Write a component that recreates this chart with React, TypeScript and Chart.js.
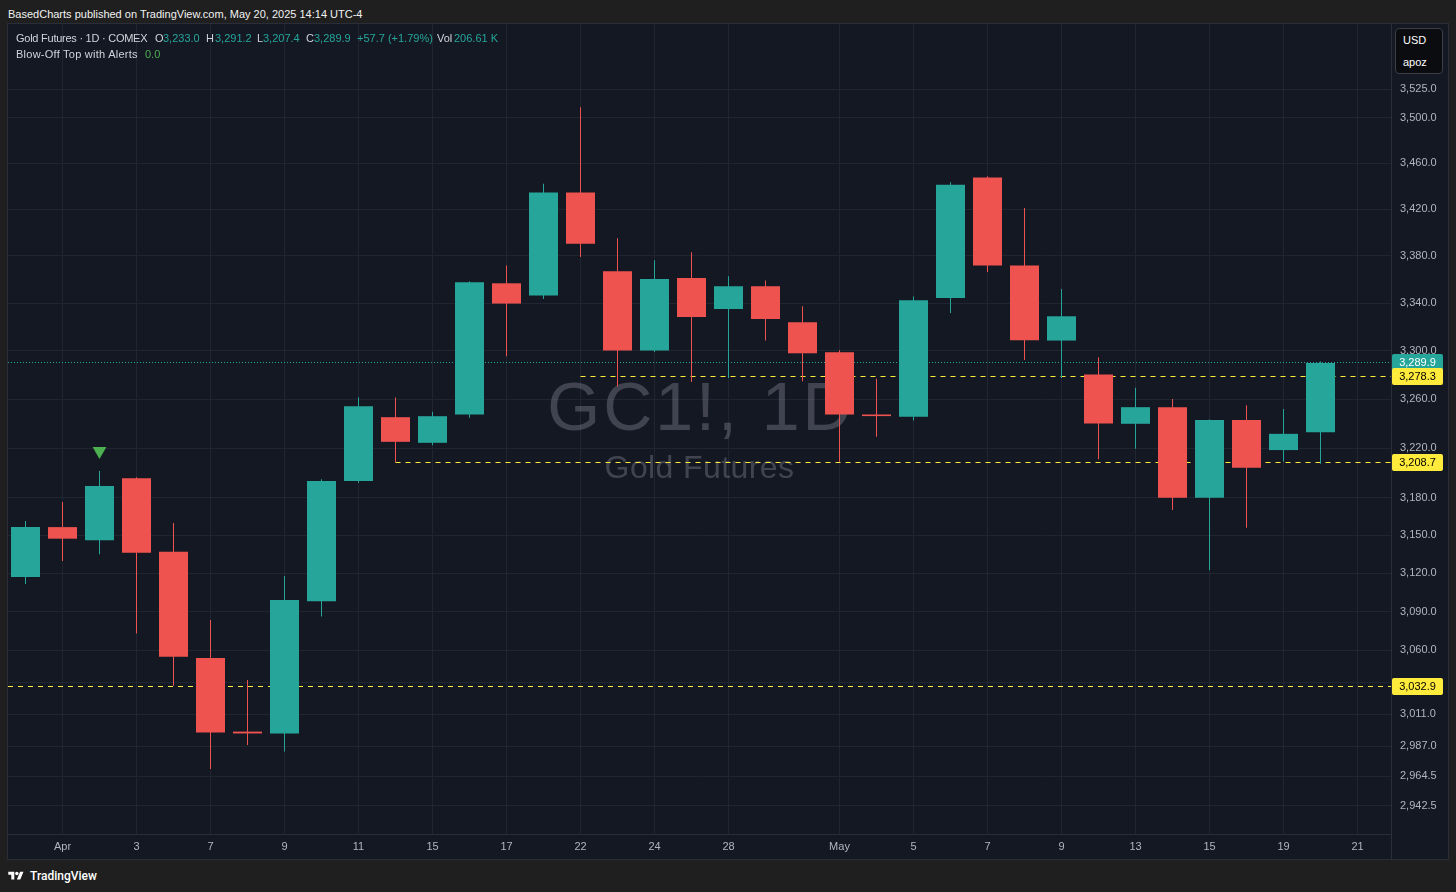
import React, { useEffect, useRef } from 'react';
import { Chart, registerables } from 'chart.js';

Chart.register(...registerables);

// ---------- data ----------
const categories = [
  'Mar 31', 'Apr 1', 'Apr 2', 'Apr 3', 'Apr 4', 'Apr 7', 'Apr 8', 'Apr 9', 'Apr 10', 'Apr 11',
  'Apr 14', 'Apr 15', 'Apr 16', 'Apr 17', 'Apr 21', 'Apr 22', 'Apr 23', 'Apr 24', 'Apr 25', 'Apr 28',
  'Apr 29', 'Apr 30', 'May 1', 'May 2', 'May 5', 'May 6', 'May 7', 'May 8', 'May 9', 'May 12',
  'May 13', 'May 14', 'May 15', 'May 16', 'May 19', 'May 20',
];
const opens = [
  3117.2, 3156.6, 3146.1, 3195.8, 3137.0, 3054.2, 2998.0, 2996.6, 3098.2, 3193.5,
  3245.3, 3224.4, 3247.5, 3356.7, 3346.3, 3434.5, 3366.9, 3300.3, 3361.2, 3335.0,
  3354.2, 3323.9, 3298.9, 3247.5, 3245.6, 3344.3, 3447.5, 3371.9, 3308.6, 3280.4,
  3239.9, 3253.5, 3180.0, 3242.9, 3218.5, 3233.0,
];
const highs = [
  3161.4, 3176.6, 3201.5, 3196.5, 3159.8, 3083.6, 3037.3, 3117.9, 3195.0, 3261.7,
  3261.4, 3249.7, 3358.5, 3371.7, 3442.0, 3509.0, 3395.0, 3376.2, 3383.0, 3362.6,
  3359.0, 3337.3, 3300.5, 3276.8, 3345.5, 3443.2, 3448.5, 3421.0, 3351.9, 3294.7,
  3269.4, 3260.3, 3243.4, 3255.1, 3251.9, 3291.2,
];
const lows = [
  3111.7, 3129.7, 3135.0, 3073.0, 3032.9, 2969.8, 2987.8, 2983.0, 3086.2, 3192.0,
  3208.7, 3222.5, 3244.9, 3295.6, 3343.4, 3379.0, 3270.8, 3299.0, 3274.3, 3277.6,
  3308.6, 3274.9, 3209.0, 3229.3, 3242.6, 3331.7, 3366.3, 3292.5, 3277.6, 3211.0,
  3219.5, 3170.2, 3122.4, 3156.1, 3209.0, 3207.4,
];
const closes = [
  3156.6, 3147.4, 3189.4, 3136.3, 3055.2, 2997.3, 2996.6, 3099.2, 3193.5, 3254.3,
  3225.2, 3246.1, 3357.6, 3339.6, 3434.5, 3390.4, 3300.3, 3360.4, 3328.3, 3354.2,
  3326.7, 3298.0, 3247.5, 3246.2, 3342.4, 3441.2, 3371.7, 3308.9, 3328.9, 3240.2,
  3253.5, 3180.0, 3242.9, 3204.1, 3231.7, 3289.9,
];

const xTickIndex = [1, 3, 5, 7, 9, 11, 13, 15, 17, 19, 22, 24, 26, 28, 30, 32, 34, 36];
const xTickLabels = ['Apr', '3', '7', '9', '11', '15', '17', '22', '24', '28', 'May', '5', '7', '9', '13', '15', '19', '21'];

const yTickValues = [3525, 3500, 3460, 3420, 3380, 3340, 3300, 3260, 3220, 3180, 3150, 3120, 3090, 3060, 3035, 3011, 2987, 2964.5, 2942.5];
const yTickLabels = ['3,525.0', '3,500.0', '3,460.0', '3,420.0', '3,380.0', '3,340.0', '3,300.0', '3,260.0', '3,220.0', '3,180.0', '3,150.0', '3,120.0', '3,090.0', '3,060.0', '', '3,011.0', '2,987.0', '2,964.5', '2,942.5'];

const lastPrice = 3289.9;
const levelValues = [3278.3, 3208.7, 3032.9];
const levelStartIndex = [15, 10, -0.473];
const signalIndex = [2];
const signalValue = [3217.7];

// ---------- styling / geometry ----------
const X_MIN = -0.473;
const X_MAX = 36.905;
const Y_MIN = 2921.6;
const Y_MAX = 3583.45;
const UP = '#26a69a';
const DOWN = '#ef5350';
const YELLOW = '#ffeb3b';
const BG = '#141823';
const GRID = '#212531';
const BORDER = '#2a2e39';
const TEXT = '#b2b5be';
const FONT = '"Liberation Sans", Arial, sans-serif';

const fmt = (v: number) => v.toLocaleString('en-US', { minimumFractionDigits: 1, maximumFractionDigits: 1 });
// centre of the whole pixel row a 1px horizontal level line is drawn on
const rowCenter = (py: number) => 2 * Math.round((py - 0.5) / 2) + 0.5;

const watermarkPlugin = {
  id: 'watermark',
  beforeDatasetsDraw(chart: any) {
    const { ctx, chartArea } = chart;
    const cx = (chartArea.left + chartArea.right) / 2;
    ctx.save();
    ctx.fillStyle = 'rgba(128,132,142,0.42)';
    ctx.textAlign = 'center';
    ctx.textBaseline = 'alphabetic';
    ctx.font = `68px ${FONT}`;
    try { (ctx as any).letterSpacing = '3px'; } catch (e) { /* ignore */ }
    ctx.fillText('GC1!, 1D', cx + 1.5, 406);
    try { (ctx as any).letterSpacing = '0.4px'; } catch (e) { /* ignore */ }
    ctx.font = `32px ${FONT}`;
    ctx.fillText('Gold Futures', cx, 454);
    try { (ctx as any).letterSpacing = '0px'; } catch (e) { /* ignore */ }
    ctx.restore();
  },
};

// keeps the 1px horizontal level lines on whole pixels so they stay crisp
const snapPlugin = {
  id: 'snapLines',
  beforeDatasetDraw(chart: any, args: any) {
    const ds = chart.data.datasets[args.index];
    if (!ds || !ds.snap) return;
    const py = chart.scales.y.getPixelForValue(ds.data[0].y);
    chart.ctx.save();
    chart.ctx.translate(0, rowCenter(py) - py);
  },
  afterDatasetDraw(chart: any, args: any) {
    const ds = chart.data.datasets[args.index];
    if (!ds || !ds.snap) return;
    chart.ctx.restore();
  },
};

const priceBoxPlugin = {
  id: 'priceBoxes',
  afterDraw(chart: any) {
    const { ctx, chartArea } = chart;
    const y = chart.scales.y;
    const boxes = [{ v: lastPrice, bg: UP, fg: '#ffffff' }, ...levelValues.map((v) => ({ v, bg: YELLOW, fg: '#000000' }))];
    ctx.save();
    ctx.strokeStyle = BORDER;
    ctx.lineWidth = 1;
    ctx.beginPath();
    ctx.moveTo(Math.round(chartArea.right) + 0.5, chartArea.bottom);
    ctx.lineTo(Math.round(chartArea.right) + 0.5, chart.height);
    ctx.stroke();
    for (const b of boxes) {
      const py = rowCenter(y.getPixelForValue(b.v));
      const x0 = Math.round(chartArea.right) + 1;
      ctx.fillStyle = b.bg;
      ctx.beginPath();
      if (ctx.roundRect) ctx.roundRect(x0, py - 8.5, 51, 17, 2);
      else ctx.rect(x0, py - 8.5, 51, 17);
      ctx.fill();
      ctx.fillStyle = b.fg;
      ctx.font = `11px ${FONT}`;
      ctx.textAlign = 'center';
      ctx.textBaseline = 'middle';
      ctx.fillText(fmt(b.v), x0 + 25.5, py + 0.5);
    }
    ctx.restore();
  },
};

const legendRow1 = [
  { t: 'Gold Futures · 1D · COMEX', x: 16, c: '#d1d4dc', ls: -0.25 },
  { t: 'O', x: 155, c: '#d1d4dc', ls: 0 },
  { t: '3,233.0', x: 163, c: UP, ls: 0 },
  { t: 'H', x: 206, c: '#d1d4dc', ls: 0 },
  { t: '3,291.2', x: 215, c: UP, ls: 0 },
  { t: 'L', x: 257, c: '#d1d4dc', ls: 0 },
  { t: '3,207.4', x: 263, c: UP, ls: 0 },
  { t: 'C', x: 306, c: '#d1d4dc', ls: 0 },
  { t: '3,289.9', x: 314, c: UP, ls: 0 },
  { t: '+57.7 (+1.79%)', x: 357, c: UP, ls: 0 },
  { t: 'Vol', x: 437, c: '#d1d4dc', ls: 0 },
  { t: '206.61 K', x: 454, c: UP, ls: 0 },
];

export default function App() {
  const canvasRef = useRef<HTMLCanvasElement | null>(null);

  useEffect(() => {
    const canvas = canvasRef.current;
    if (!canvas) return;
    Chart.defaults.font.family = FONT;
    const idx = categories.map((_, i) => i);
    const colors = idx.map((i) => (closes[i] >= opens[i] ? UP : DOWN));

    const chart = new Chart(canvas, {
      type: 'bar',
      data: {
        datasets: [
          {
            type: 'bar',
            label: 'body',
            data: idx.map((i) => ({ x: i, y: [opens[i], closes[i]] })) as any,
            backgroundColor: colors,
            borderWidth: 0,
            grouped: false,
            categoryPercentage: 1,
            barPercentage: 1,
            maxBarThickness: 29,
            inflateAmount: 0,
            order: 1,
          } as any,
          {
            type: 'bar',
            label: 'wick',
            data: idx.map((i) => ({ x: i, y: [lows[i], highs[i]] })) as any,
            backgroundColor: colors,
            borderWidth: 0,
            grouped: false,
            categoryPercentage: 1,
            barPercentage: 1,
            maxBarThickness: 1,
            inflateAmount: 0,
            order: 2,
          } as any,
          {
            type: 'line',
            label: 'signal',
            data: signalIndex.map((s, k) => ({ x: s, y: signalValue[k] })),
            showLine: false,
            pointStyle: 'triangle',
            pointRotation: 180,
            pointRadius: 8,
            pointBackgroundColor: '#4caf50',
            pointBorderWidth: 0,
            order: 0,
          } as any,
          ...levelValues.map((v, k) => ({
            type: 'line',
            label: 'level ' + k,
            snap: true,
            data: [{ x: levelStartIndex[k], y: v }, { x: X_MAX, y: v }],
            borderColor: YELLOW,
            borderWidth: 1,
            borderDash: [5, 5],
            pointRadius: 0,
            order: 10,
          })) as any,
          {
            type: 'line',
            label: 'last',
            snap: true,
            data: [{ x: X_MIN, y: lastPrice }, { x: X_MAX, y: lastPrice }],
            borderColor: UP,
            borderWidth: 1,
            borderDash: [1, 2],
            pointRadius: 0,
            order: 11,
          } as any,
        ],
      },
      options: {
        responsive: false,
        animation: false,
        events: [],
        layout: { padding: 0, autoPadding: false },
        plugins: { legend: { display: false }, tooltip: { enabled: false } },
        scales: {
          x: {
            type: 'linear',
            offset: false,
            min: X_MIN,
            max: X_MAX,
            afterBuildTicks: (scale: any) => {
              scale.ticks = xTickIndex.map((v) => ({ value: v }));
            },
            afterFit: (scale: any) => {
              scale.height = 25;
              scale.paddingLeft = 0;
              scale.paddingRight = 0;
            },
            ticks: {
              autoSkip: false,
              maxRotation: 0,
              padding: 6,
              color: TEXT,
              font: { size: 11, family: FONT },
              callback: (_v: any, i: number) => xTickLabels[i],
            },
            grid: { color: GRID, drawTicks: false, lineWidth: 1, offset: false },
            border: { display: true, color: BORDER },
          },
          y: {
            type: 'logarithmic',
            position: 'right',
            min: Y_MIN,
            max: Y_MAX,
            afterBuildTicks: (scale: any) => {
              scale.ticks = yTickValues.map((v) => ({ value: v }));
            },
            afterFit: (scale: any) => {
              scale.width = 57;
              scale.paddingTop = 0;
              scale.paddingBottom = 0;
            },
            ticks: {
              autoSkip: false,
              padding: 9,
              crossAlign: 'near',
              color: TEXT,
              font: { size: 11, family: FONT },
              callback: (_v: any, i: number) => yTickLabels[i],
            },
            grid: { color: GRID, drawTicks: false, lineWidth: 1 },
            border: { display: true, color: BORDER },
          },
        },
      } as any,
      plugins: [watermarkPlugin, snapPlugin, priceBoxPlugin],
    });
    return () => chart.destroy();
  }, []);

  const abs = (left: number, top: number, extra: React.CSSProperties = {}): React.CSSProperties => ({
    position: 'absolute',
    left,
    top,
    whiteSpace: 'nowrap',
    ...extra,
  });

  return (
    <div
      style={{
        position: 'fixed',
        left: 0,
        top: 0,
        width: 1456,
        height: 892,
        background: '#1f1f1f',
        overflow: 'hidden',
        fontFamily: FONT,
      }}
    >
      <div style={abs(8, 6, { fontSize: 11, color: '#f2f2f2', lineHeight: '16px' })}>
        BasedCharts published on TradingView.com, May 20, 2025 14:14 UTC-4
      </div>
      <div
        style={{
          position: 'absolute',
          left: 7,
          top: 23,
          width: 1442,
          height: 837,
          boxSizing: 'border-box',
          border: `1px solid ${BORDER}`,
          background: BG,
        }}
      />
      <canvas
        ref={canvasRef}
        width={1440}
        height={835}
        style={{ position: 'absolute', left: 8, top: 24, width: 1440, height: 835 }}
      />
      {legendRow1.map((s, i) => (
        <div key={i} style={abs(s.x, 31, { fontSize: 11, lineHeight: '14px', color: s.c, letterSpacing: s.ls })}>
          {s.t}
        </div>
      ))}
      <div style={abs(16, 47, { fontSize: 11, lineHeight: '14px', color: '#d1d4dc', letterSpacing: 0.25 })}>Blow-Off Top with Alerts</div>
      <div style={abs(145, 47, { fontSize: 11, lineHeight: '14px', color: '#4caf50' })}>0.0</div>

      <div
        style={{
          position: 'absolute',
          left: 1395,
          top: 28,
          width: 48,
          height: 46,
          boxSizing: 'border-box',
          border: '1px solid #3b3e47',
          borderRadius: 4,
          background: '#0b0c0f',
        }}
      />
      <div style={abs(1403, 33, { fontSize: 11, lineHeight: '14px', color: '#ffffff' })}>USD</div>
      <div style={abs(1403, 55, { fontSize: 11, lineHeight: '14px', color: '#ffffff' })}>apoz</div>

      <svg style={{ position: 'absolute', left: 8, top: 870 }} width="16" height="12" viewBox="0 0 36 28">
        <path d="M14 22H7V11H0V4h14v18zM28 22h-8l7.5-18h8L28 22z" fill="#ffffff" />
        <circle cx="20" cy="8" r="4" fill="#ffffff" />
      </svg>
      <div style={abs(30, 868, { fontSize: 12, lineHeight: '16px', color: '#ffffff', fontFamily: 'Roboto, sans-serif', fontWeight: 500 })}>
        TradingView
      </div>
    </div>
  );
}
